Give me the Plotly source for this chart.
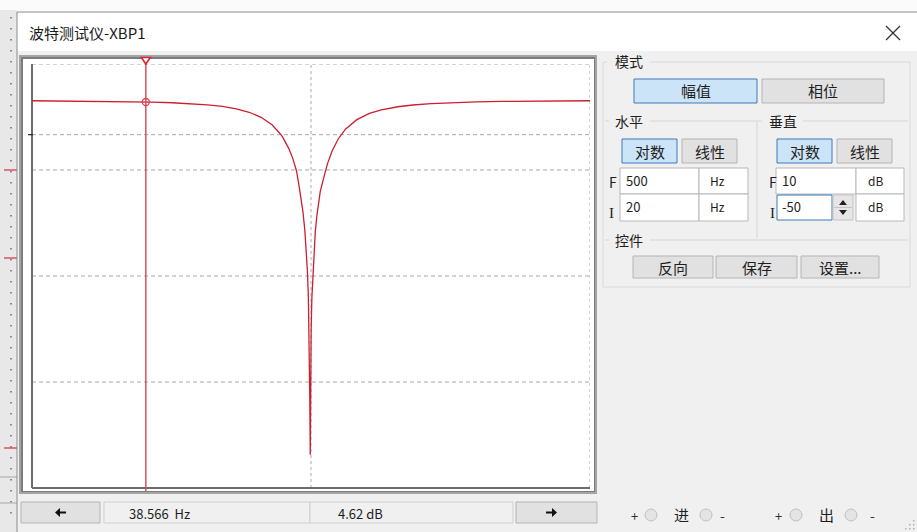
import math
import plotly.graph_objects as go

# ---- sweep data: XBP1 magnitude response (notch network) ----
freq_hz = [20, 25, 30, 35, 40, 45, 50, 55, 60, 65, 70, 75, 80, 82, 84, 85, 88, 90, 92,
           93.5, 95.5, 96.5, 97.5, 98.0, 98.5, 99.0, 99.3, 99.58, 99.8, 100.1, 100.5,
           101.5, 102.5, 103.5, 105.5, 108, 110, 113, 117, 122, 130, 140, 150, 165, 180,
           200, 230, 260, 300, 350, 400, 450, 500]
gain_db = [4.80, 4.77, 4.73, 4.68, 4.61, 4.52, 4.39, 4.22, 3.99, 3.65, 3.17, 2.46, 1.36,
           0.76, 0.03, -0.39, -1.97, -3.35, -5.14,
           -7.53, -11.00, -13.50, -17.03, -19.54, -23.07, -29.11, -37.08, -45.30, -33.58,
           -27.57, -23.16, -17.20, -13.75, -11.34, -8.03, -5.77, -4.10, -2.28, -0.61,
           0.77, 2.09, 3.00, 3.51, 3.95, 4.20, 4.39, 4.55, 4.63, 4.70, 4.75, 4.77, 4.79,
           4.80]

# ---- instrument settings ----
h_final_hz, h_init_hz = 500, 20
v_final_db, v_init_db = 10, -50
v_grid_db = [10, -5, -20, -35]
zero_db = 0
x_grid_hz = [100, 500]
cursor_freq = 38.566
cursor_gain = 4.62

title_text = "波特测试仪-XBP1"
mode_label, mode_buttons = "模式", ["幅值", "相位"]
horiz_label, vert_label = "水平", "垂直"
scale_buttons = ["对数", "线性"]
ctrl_label, ctrl_buttons = "控件", ["反向", "保存", "设置..."]
in_label, out_label = "进", "出"

FONT = "Noto Sans CJK SC"
W, H = 917, 532
L, R, T, B = 32, 590, 64, 488          # plot area in window pixels


def X(px):
    return (px - L) / (R - L)


def Y(py):
    return (B - py) / (B - T)


shapes = []
annotations = []


def rect(x0, y0, x1, y1, fill=None, line=None, lw=1, layer="below"):
    shapes.append(dict(type="rect", xref="paper", yref="paper",
                       x0=X(x0), x1=X(x1), y0=Y(y1), y1=Y(y0),
                       fillcolor=fill or "rgba(0,0,0,0)",
                       line=dict(color=line or "rgba(0,0,0,0)", width=lw if line else 0),
                       layer=layer))


def hline(x0, x1, y, color, lw=1, dash="solid", layer="below"):
    shapes.append(dict(type="line", xref="paper", yref="paper",
                       x0=X(x0), x1=X(x1), y0=Y(y), y1=Y(y),
                       line=dict(color=color, width=lw, dash=dash), layer=layer))


def vline(x, y0, y1, color, lw=1, dash="solid", layer="below"):
    shapes.append(dict(type="line", xref="paper", yref="paper",
                       x0=X(x), x1=X(x), y0=Y(y0), y1=Y(y1),
                       line=dict(color=color, width=lw, dash=dash), layer=layer))


def poly(points, fill, line=None, lw=0, layer="below"):
    path = "M " + " L ".join("{},{}".format(X(px), Y(py)) for px, py in points) + " Z"
    shapes.append(dict(type="path", xref="paper", yref="paper", path=path,
                       fillcolor=fill,
                       line=dict(color=line or "rgba(0,0,0,0)", width=lw), layer=layer))


def circle(cx, cy, r, fill, line):
    shapes.append(dict(type="circle", xref="paper", yref="paper",
                       x0=X(cx - r), x1=X(cx + r), y0=Y(cy + r), y1=Y(cy - r),
                       fillcolor=fill, line=dict(color=line, width=1), layer="below"))


def text(x, y, s, size=13, color="#1e1e1e", anchor="left", family=FONT):
    annotations.append(dict(text=s, xref="paper", yref="paper", x=X(x), y=Y(y),
                            xanchor=anchor, yanchor="middle", showarrow=False,
                            font=dict(family=family, size=size, color=color)))


def button(x0, y0, x1, y1, label, active=False, size=15):
    if active:
        rect(x0, y0, x1, y1, fill="#cce4f7", line="#3d7ab8", lw=1)
    else:
        rect(x0, y0, x1, y1, fill="#e1e1e1", line="#b4b4b4", lw=1)
    text((x0 + x1) / 2, (y0 + y1) / 2, label, size=size, anchor="center")


# ---- window chrome ----
rect(0, 0, W, 12, fill="#fbfbfb")
rect(0, 10, 17, H, fill="#e8e8e8")
for yy in range(17, 520, 11):
    rect(10, yy, 12, yy + 1.5, fill="#8a8a8a")
for yy in [170, 258, 448]:
    hline(4, 17, yy, "#d0303c", lw=1.2)
hline(0, 17, 477, "#a8a8a8")
hline(0, 17, 503, "#a8a8a8")
rect(17, 12, W + 2, 51, fill="#ffffff")
hline(17, W, 12, "#8c8c8c")
vline(17, 12, H, "#8c8c8c")
text(27, 33, title_text, size=15, color="#1a1a1a")
# close glyph
for (a, b, c, d) in [(886, 26, 900, 40), (886, 40, 900, 26)]:
    shapes.append(dict(type="line", xref="paper", yref="paper",
                       x0=X(a), x1=X(c), y0=Y(b), y1=Y(d),
                       line=dict(color="#333333", width=1.2), layer="below"))

# ---- plot frame ----
rect(19, 55, 597, 494, fill="#a4a4a4")
rect(21, 57, 595, 492, fill="#7c7c7c")
rect(23, 59, 594, 491, fill="#ffffff")

# grid
for v in v_grid_db + [zero_db]:
    shapes.append(dict(type="line", xref="paper", yref="y", x0=0, x1=1, y0=v, y1=v,
                       line=dict(color="#a9a9a9", width=1, dash="4px,3px"), layer="below"))
for f in x_grid_hz:
    shapes.append(dict(type="line", xref="x", yref="paper", x0=f, x1=f, y0=0, y1=1,
                       line=dict(color="#a9a9a9", width=1, dash="3px,3px"), layer="below"))
# axis lines and 0 dB tick
shapes.append(dict(type="line", xref="paper", yref="paper", x0=0, x1=0, y0=0, y1=1,
                   line=dict(color="#6c6c6c", width=2), layer="below"))
shapes.append(dict(type="line", xref="paper", yref="paper", x0=0, x1=1, y0=0, y1=0,
                   line=dict(color="#6c6c6c", width=2), layer="below"))
shapes.append(dict(type="line", xref="paper", yref="y", x0=X(28), x1=X(33),
                   y0=zero_db, y1=zero_db, line=dict(color="#222222", width=1.2),
                   layer="below"))

# cursor line and its top handle
shapes.append(dict(type="line", xref="x", yref="paper", x0=cursor_freq, x1=cursor_freq,
                   y0=Y(491), y1=Y(59), line=dict(color="#d64550", width=1.4),
                   layer="above"))
shapes.append(dict(type="path", xref="x", yref="paper", xsizemode="pixel",
                   xanchor=cursor_freq,
                   path="M -4.5,{a} L 4.5,{a} L 0,{b} Z".format(a=Y(57.5), b=Y(64)),
                   fillcolor="#ffffff", line=dict(color="#d02a38", width=1.6),
                   layer="above"))

# ---- right-hand control panel ----
rect(603, 62, 910, 287, line="#dadada")
rect(607, 52, 650, 70, fill="#f0f0f0")
text(613, 61, mode_label, size=14)
button(634, 79, 757, 103, mode_buttons[0], active=True)
button(762, 79, 884, 103, mode_buttons[1])

hline(605, 908, 121, "#d6d6d6")
vline(757, 121, 238, "#d6d6d6")
rect(609, 112, 650, 130, fill="#f0f0f0")
rect(762, 112, 803, 130, fill="#f0f0f0")
text(613, 121, horiz_label, size=14)
text(767, 121, vert_label, size=14)

button(622, 139, 677, 163, scale_buttons[0], active=True)
button(682, 139, 737, 163, scale_buttons[1])
button(777, 139, 832, 163, scale_buttons[0], active=True)
button(837, 139, 892, 163, scale_buttons[1])

# horizontal F / I fields
rect(620, 168, 699, 194, fill="#ffffff", line="#b8b8b8")
rect(699, 168, 748, 194, fill="#ffffff", line="#b8b8b8")
rect(620, 194, 699, 221, fill="#ffffff", line="#b8b8b8")
rect(699, 194, 748, 221, fill="#ffffff", line="#b8b8b8")
text(612.5, 182, "F", size=14, anchor="center")
text(611, 213, "I", size=15, anchor="center", family="Liberation Serif")
text(624, 180, str(h_final_hz), size=13)
text(624, 206, str(h_init_hz), size=13)
text(717, 180, "Hz", size=12, anchor="center")
text(717, 206, "Hz", size=12, anchor="center")

# vertical F / I fields
rect(776, 168, 856, 194, fill="#ffffff", line="#b8b8b8")
rect(856, 168, 904, 194, fill="#ffffff", line="#b8b8b8")
rect(777, 195, 832, 220, fill="#ffffff", line="#3d7ab8")
rect(833, 195, 853, 220, fill="#e6e6e6", line="#c4c4c4")
rect(856, 194, 904, 221, fill="#ffffff", line="#b8b8b8")
poly([(839, 205), (847, 205), (843, 200)], "#222222")
poly([(839, 210), (847, 210), (843, 215)], "#222222")
hline(834, 852, 207.5, "#c4c4c4")
text(772.5, 182, "F", size=14, anchor="center")
text(772, 213, "I", size=15, anchor="center", family="Liberation Serif")
text(780, 180, str(v_final_db), size=13)
text(780, 206, str(v_init_db), size=13)
text(875, 180, "dB", size=12, anchor="center")
text(875, 206, "dB", size=12, anchor="center")

hline(605, 908, 240, "#d6d6d6")
rect(609, 231, 650, 249, fill="#f0f0f0")
text(613, 240, ctrl_label, size=14)
button(633, 256, 713, 278, ctrl_buttons[0])
button(716, 256, 797, 278, ctrl_buttons[1])
button(801, 256, 879, 278, ctrl_buttons[2])

# ---- bottom readout bar ----
rect(21, 502, 100, 523, fill="#e1e1e1", line="#b4b4b4")
rect(104, 502, 310, 523, fill="#f0f0f0", line="#cfcfcf")
rect(310, 502, 513, 523, fill="#f0f0f0", line="#cfcfcf")
rect(516, 502, 597, 523, fill="#e1e1e1", line="#b4b4b4")
poly([(55, 512.5), (60, 508), (60, 511.5), (66, 511.5), (66, 513.5), (60, 513.5), (60, 517)],
     "#111111")
poly([(557, 512.5), (552, 508), (552, 511.5), (546, 511.5), (546, 513.5), (552, 513.5),
      (552, 517)], "#111111")
text(127, 513, "{:.3f}  Hz".format(cursor_freq), size=13)
text(336, 513, "{:.2f} dB".format(cursor_gain), size=13)

# terminal indicators
for (x_plus, c1, lab, c2, x_minus, word) in [(634, 651, 681, 706, 722, in_label),
                                             (778, 796, 826, 851, 872, out_label)]:
    text(x_plus, 515, "+", size=13, anchor="center", color="#333333")
    circle(c1, 515, 6, "#e4e4e4", "#c0c0c0")
    text(lab, 514, word, size=15, anchor="center")
    circle(c2, 515, 6, "#e4e4e4", "#c0c0c0")
    text(x_minus, 515, "-", size=14, anchor="center", color="#333333")
for (gx, gy) in [(905, 528), (909, 528), (909, 524), (913, 528), (913, 524), (913, 520)]:
    rect(gx, gy, gx + 1.5, gy + 1.5, fill="#b0b0b0")

# ---- traces ----
fig = go.Figure()
fig.add_trace(go.Scatter(x=freq_hz, y=gain_db, mode="lines",
                         line=dict(color="#cc1f30", width=1.3), hoverinfo="skip"))
fig.add_trace(go.Scatter(x=[cursor_freq], y=[cursor_gain], mode="markers",
                         marker=dict(symbol="circle-open", size=7, color="#d64550",
                                     line=dict(color="#d64550", width=1.3)),
                         hoverinfo="skip"))

fig.update_layout(
    width=W, height=H,
    margin=dict(l=L, r=W - R, t=T, b=H - B),
    paper_bgcolor="#f0f0f0",
    plot_bgcolor="rgba(0,0,0,0)",
    showlegend=False,
    shapes=shapes,
    annotations=annotations,
    xaxis=dict(type="log", range=[math.log10(h_init_hz), math.log10(h_final_hz)],
               showgrid=False, zeroline=False, showticklabels=False, ticks="",
               showline=False, fixedrange=True),
    yaxis=dict(range=[v_init_db, v_final_db], showgrid=False, zeroline=False,
               showticklabels=False, ticks="", showline=False, fixedrange=True),
)

fig.write_html("out.html", config={"displayModeBar": False})
